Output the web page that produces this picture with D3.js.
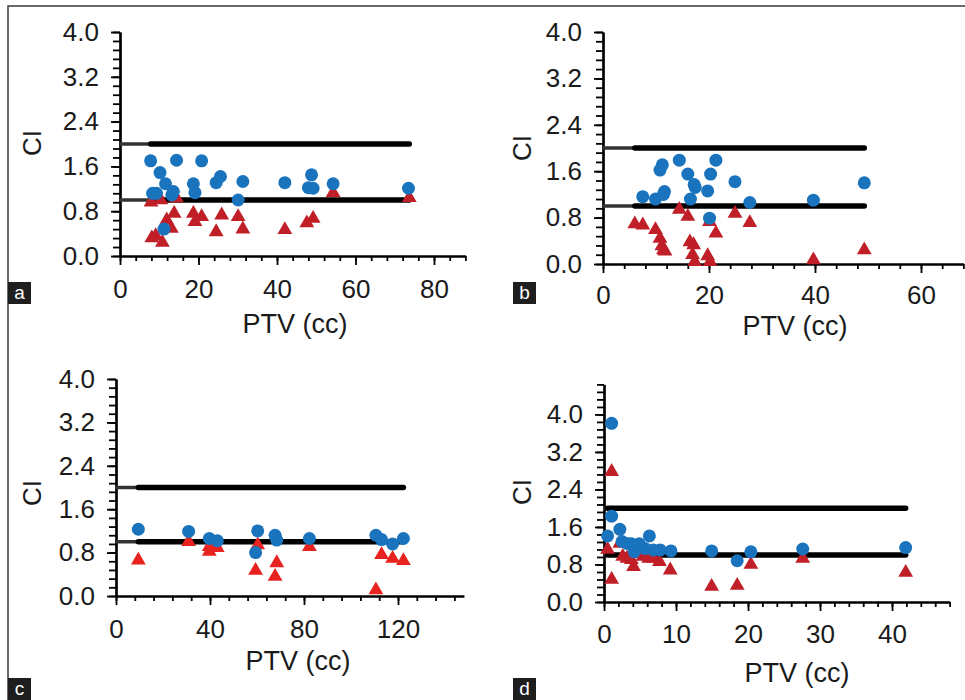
<!DOCTYPE html>
<html>
<head>
<meta charset="utf-8">
<script src="https://cdn.jsdelivr.net/npm/d3@7"></script>
<style>
body { margin: 0; background: #fff; }
svg text { font-family: "Liberation Sans", Arial, sans-serif; fill: #1a1a1a; }
</style>
</head>
<body>
<div id="container"></div>
<script>
// panel a
var aBlueX = [7.8, 14.4, 20.8, 10.2, 11.6, 8.3, 9.3, 13.6, 13.2, 18.7, 19.1, 24.5, 25.6, 31.3, 30.1, 42.0, 48.8, 48.0, 49.2, 54.3, 73.5, 11.2];
var aBlueY = [1.70, 1.71, 1.70, 1.49, 1.29, 1.12, 1.12, 1.15, 1.09, 1.29, 1.13, 1.31, 1.42, 1.33, 1.00, 1.31, 1.45, 1.22, 1.21, 1.29, 1.21, 0.48];
var aRedX = [7.9, 10.4, 14.4, 13.8, 11.9, 13.1, 8.1, 9.1, 10.8, 18.7, 19.1, 20.8, 24.5, 25.9, 30.1, 31.3, 42.0, 47.6, 49.2, 54.3, 73.7];
var aRedY = [0.96, 1.00, 1.03, 0.76, 0.64, 0.49, 0.32, 0.36, 0.24, 0.76, 0.61, 0.70, 0.43, 0.73, 0.70, 0.48, 0.47, 0.59, 0.67, 1.13, 1.04];

// panel b
var bBlueX = [7.5, 9.9, 10.75, 11.2, 11.6, 11.4, 14.4, 16.0, 17.2, 17.4, 16.5, 19.75, 20.3, 21.3, 20.1, 24.9, 27.7, 39.7, 49.3];
var bBlueY = [1.16, 1.12, 1.62, 1.71, 1.25, 1.20, 1.79, 1.55, 1.37, 1.32, 1.12, 1.26, 1.55, 1.79, 0.79, 1.42, 1.06, 1.10, 1.40];
var bRedX = [6.0, 7.5, 9.9, 10.75, 11.1, 11.4, 11.7, 14.4, 16.0, 16.4, 17.1, 16.9, 17.3, 19.75, 20.2, 20.1, 21.3, 24.9, 27.7, 39.7, 49.3];
var bRedY = [0.69, 0.67, 0.59, 0.44, 0.31, 0.24, 0.22, 0.94, 0.82, 0.38, 0.33, 0.16, 0.04, 0.14, 0.04, 0.73, 0.53, 0.87, 0.71, 0.07, 0.24];

// panel c
var cBlueX = [9.5, 30.9, 39.7, 43.1, 60.3, 59.4, 67.7, 68.4, 82.3, 110.6, 113.0, 117.7, 122.3];
var cBlueY = [1.23, 1.19, 1.06, 1.02, 1.20, 0.80, 1.12, 1.03, 1.06, 1.12, 1.04, 0.96, 1.06];
var cRedX = [9.5, 30.9, 39.7, 39.7, 43.1, 60.3, 59.4, 68.4, 67.7, 82.3, 110.6, 113.0, 117.7, 122.3];
var cRedY = [0.66, 1.00, 0.82, 0.91, 0.89, 0.94, 0.47, 0.61, 0.36, 0.91, 0.11, 0.76, 0.69, 0.65];

// panel d
var dBlueX = [1.06, 1.06, 0.5, 2.2, 2.5, 3.2, 3.8, 4.2, 4.9, 5.7, 6.3, 6.85, 7.8, 9.3, 14.95, 18.5, 20.4, 27.6, 41.9];
var dBlueY = [3.81, 1.83, 1.41, 1.55, 1.29, 1.25, 1.24, 1.07, 1.24, 1.14, 1.41, 1.11, 1.11, 1.09, 1.09, 0.88, 1.07, 1.13, 1.16];
var dRedX = [1.06, 0.5, 1.06, 2.2, 2.6, 3.2, 4.1, 3.8, 5.4, 6.2, 6.85, 7.7, 9.2, 14.95, 18.5, 20.4, 27.6, 41.9];
var dRedY = [2.78, 1.12, 0.48, 1.25, 0.97, 0.93, 0.75, 0.90, 0.97, 0.93, 0.93, 0.86, 0.68, 0.33, 0.35, 0.80, 0.93, 0.63];

var refLevels = [1, 2];
var panelNames = ["a", "b", "c", "d"];
var xMaxes = [88, 68, 148, 48];
var xMinorSteps = [4, 4, 8, 2];
var xMajorSteps = [20, 20, 40, 10];
var yMaxes = [4.0, 4.0, 4.0, 4.64];
var yLabelMax = 4.0;
var xTitle = "PTV (cc)";
var yTitle = "CI";

var blue = "#1a74bd";
var reds = ["#c01f28", "#c01f28", "#e8231f", "#c01f28"];

// layout of each panel in pixels
var layout = [
  { left: 120, right: 465.4, top: 32, bottom: 256, pad: 15, titleX: 295, titleY: 333, ciX: 32, ciY: 143, boxX: 8, boxY: 282 },
  { left: 603, right: 963.4, top: 32, bottom: 264, pad: 13, titleX: 795, titleY: 335, ciX: 522, ciY: 148, boxX: 513, boxY: 282 },
  { left: 116, right: 463.8, top: 379, bottom: 596, pad: 15, titleX: 298, titleY: 670, ciX: 32, ciY: 493, boxX: 8, boxY: 678 },
  { left: 604, right: 949.6, top: 384.4, bottom: 602, pad: 14, titleX: 797, titleY: 682, ciX: 522, ciY: 492, boxX: 513, boxY: 678 }
];

var series = [
  { bx: aBlueX, by: aBlueY, rx: aRedX, ry: aRedY },
  { bx: bBlueX, by: bBlueY, rx: bRedX, ry: bRedY },
  { bx: cBlueX, by: cBlueY, rx: cRedX, ry: cRedY },
  { bx: dBlueX, by: dBlueY, rx: dRedX, ry: dRedY }
];

var svg = d3.select("#container").append("svg")
  .attr("width", 965).attr("height", 700);

// outer frame (top and left edge)
svg.append("path")
  .attr("d", "M8,700V6H965")
  .attr("fill", "none").attr("stroke", "#3a3a3a").attr("stroke-width", 1.5);

var tri = d3.symbol().type(d3.symbolTriangle).size(95);

panelNames.forEach(function(name, p) {
  var L = layout[p];
  var s = series[p];
  var g = svg.append("g");

  var x = d3.scaleLinear().domain([0, xMaxes[p]]).range([L.left, L.right]);
  var y = d3.scaleLinear().domain([0, yMaxes[p]]).range([L.bottom, L.top]);

  // minor ticks
  g.append("g").attr("transform", "translate(0," + L.bottom + ")")
    .call(d3.axisBottom(x).tickValues(d3.range(0, xMaxes[p] + 1e-6, xMinorSteps[p]))
      .tickSize(5).tickSizeOuter(0).tickFormat(""));
  g.append("g").attr("transform", "translate(" + L.left + ",0)")
    .call(d3.axisLeft(y).tickValues(d3.range(0, yMaxes[p] + 1e-6, 0.16))
      .tickSize(7).tickSizeOuter(0).tickFormat(""));

  // major ticks with labels
  g.append("g").attr("transform", "translate(0," + L.bottom + ")")
    .call(d3.axisBottom(x).tickValues(d3.range(0, xMaxes[p] + 1e-6, xMajorSteps[p]))
      .tickSize(9).tickPadding(L.pad).tickSizeOuter(0).tickFormat(d3.format("d")));
  g.append("g").attr("transform", "translate(" + L.left + ",0)")
    .call(d3.axisLeft(y).tickValues(d3.range(0, yLabelMax + 1e-6, 0.8))
      .tickSize(9).tickPadding(12).tickSizeOuter(0).tickFormat(d3.format(".1f")));

  g.selectAll(".domain").attr("stroke", "#000").attr("stroke-width", 2.2);
  g.selectAll(".tick line").attr("stroke", "#000").attr("stroke-width", 1.8);
  g.selectAll(".tick text").attr("font-size", 26).attr("fill", "#1a1a1a")
    .attr("font-family", "'Liberation Sans', Arial, sans-serif");

  // reference lines at CI = 1 and 2
  var xs = s.bx.concat(s.rx);
  var x0 = d3.min(xs), x1 = d3.max(xs);
  refLevels.forEach(function(v) {
    g.append("line")
      .attr("x1", x(0)).attr("x2", x(x0))
      .attr("y1", y(v)).attr("y2", y(v))
      .attr("stroke", "#333").attr("stroke-width", 3.5);
    g.append("line")
      .attr("x1", x(x0)).attr("x2", x(x1))
      .attr("y1", y(v)).attr("y2", y(v))
      .attr("stroke", "#000").attr("stroke-width", 5.5)
      .attr("stroke-linecap", "round");
  });

  // triangles
  g.selectAll("path.red")
    .data(d3.zip(s.rx, s.ry))
    .enter().append("path")
    .attr("class", "red")
    .attr("d", tri)
    .attr("transform", function(d) { return "translate(" + x(d[0]) + "," + y(d[1]) + ")"; })
    .attr("fill", reds[p]);

  // circles
  g.selectAll("circle")
    .data(d3.zip(s.bx, s.by))
    .enter().append("circle")
    .attr("cx", function(d) { return x(d[0]); })
    .attr("cy", function(d) { return y(d[1]); })
    .attr("r", 6.5)
    .attr("fill", blue);

  // titles
  g.append("text")
    .attr("x", L.titleX).attr("y", L.titleY)
    .attr("text-anchor", "middle").attr("font-size", 27)
    .text(xTitle);
  g.append("text")
    .attr("transform", "translate(" + (L.ciX + 9) + "," + L.ciY + ") rotate(-90)")
    .attr("text-anchor", "middle").attr("font-size", 26)
    .text(yTitle);

  // panel letter box
  g.append("rect")
    .attr("x", L.boxX).attr("y", L.boxY)
    .attr("width", 23).attr("height", 22)
    .attr("fill", "#1e1e1e");
  g.append("text")
    .attr("x", L.boxX + 11.5).attr("y", L.boxY + 17)
    .attr("text-anchor", "middle").attr("font-size", 19)
    .style("fill", "#fff")
    .text(name);
});
</script>
</body>
</html>
